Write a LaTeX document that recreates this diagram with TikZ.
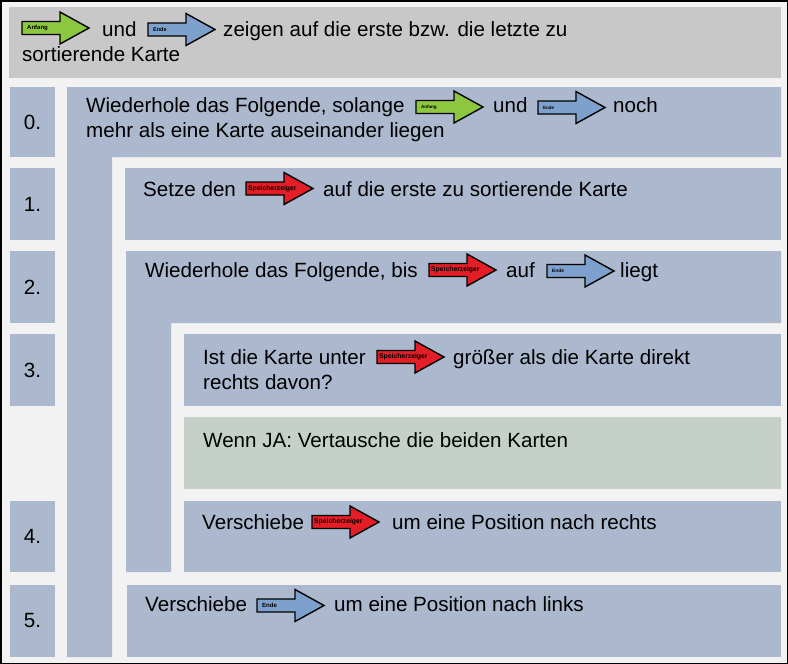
\documentclass[tikz,border=0pt]{standalone}
\usepackage{fontspec}
\setmainfont{Liberation Sans}
\definecolor{bgcol}{HTML}{F2F2F2}
\definecolor{topcol}{HTML}{C8C8C8}
\definecolor{boxcol}{HTML}{ABB8CE}
\definecolor{yescol}{HTML}{C5D1C8}
\definecolor{greenarr}{HTML}{8DC63F}
\definecolor{bluearr}{HTML}{7DA0CD}
\definecolor{redarr}{HTML}{E31E26}
\tikzset{
  stepbox/.style={fill=boxcol, draw=none},
  txt/.style={anchor=base west, inner sep=0pt, font=\fontsize{20.6}{25}\selectfont, text=black},
  numtxt/.style={anchor=center, inner sep=0pt, font=\fontsize{20.6}{25}\selectfont, text=black},
  arrowline/.style={draw=black, line width=1.4pt, line join=miter},
  arrowlabel/.style={anchor=west, inner sep=0pt, text=black}
}
\newcommand{\bkarrow}[7]{%
  \begin{scope}[shift={(#2,#3)}]
    \draw[arrowline, fill=#4] (0,-6.5) -- (38,-6.5) -- (38,-16) -- (67,0) -- (38,16) -- (38,6.5) -- (0,6.5) -- cycle;
    \node[arrowlabel, font=\bfseries\fontsize{#6}{#6}\selectfont] (#1) at (#7,0) {#5};
  \end{scope}}
\begin{document}
\begin{tikzpicture}[x=1pt,y=-1pt]
\useasboundingbox (0,0) rectangle (788,664);
\fill[bgcol] (0,0) rectangle (788,664);
\draw[black, line width=1.5pt] (0.75,0.75) rectangle (787.25,663.25);

% header
\fill[topcol] (9,7) rectangle (781,78);

% number boxes
\fill[stepbox] (10,87) rectangle (55,157);
\fill[stepbox] (10,168) rectangle (55,240);
\fill[stepbox] (10,251) rectangle (55,323);
\fill[stepbox] (10,334) rectangle (55,406);
\fill[stepbox] (10,501) rectangle (55,572);
\fill[stepbox] (10,585) rectangle (55,657);

% step 0 (L shape)
\fill[stepbox] (67,87) -- (781,87) -- (781,157) -- (112,157) -- (112,657) -- (67,657) -- cycle;
% step 1
\fill[stepbox] (125,168) rectangle (781,240);
% step 2 (L shape)
\fill[stepbox] (126,251) -- (781,251) -- (781,323) -- (171,323) -- (171,572) -- (126,572) -- cycle;
% step 3
\fill[stepbox] (184,334) rectangle (781,406);
% yes box
\fill[yescol] (184,417) rectangle (781,489);
% step 4
\fill[stepbox] (184,501) rectangle (781,572);
% step 5
\fill[stepbox] (127,585) rectangle (781,657);

% numbers
\node[numtxt] (n0) at (32.5,122) {0.};
\node[numtxt] (n1) at (32.5,204) {1.};
\node[numtxt] (n2) at (32.5,287) {2.};
\node[numtxt] (n3) at (32.5,370) {3.};
\node[numtxt] (n4) at (32.5,536.5) {4.};
\node[numtxt] (n5) at (32.5,621) {5.};

% header text
\bkarrow{hA}{22}{28}{greenarr}{Anfang}{6}{5}
\node[txt] (h1) at (102,36) {und};
\bkarrow{hE}{148}{29.5}{bluearr}{Ende}{5.5}{5}
\node[txt] (h2) at (223,36) {zeigen auf die erste bzw. die letzte zu};
\node[txt] (h3) at (22,61) {sortierende Karte};

% step 0 text
\node[txt] (s0a) at (86,112) {Wiederhole das Folgende, solange};
\bkarrow{s0A}{416}{107}{greenarr}{Anfang}{4.5}{5}
\node[txt] (s0b) at (493,112) {und};
\bkarrow{s0E}{538}{107.5}{bluearr}{Ende}{4.5}{5}
\node[txt] (s0c) at (613,112) {noch};
\node[txt] (s0d) at (86,137) {mehr als eine Karte auseinander liegen};

% step 1 text
\node[txt] (s1a) at (143,196) {Setze den};
\bkarrow{s1S}{246}{188.5}{redarr}{Speicherzeiger}{6.8}{2}
\node[txt] (s1b) at (323,196) {auf die erste zu sortierende Karte};

% step 2 text
\node[txt] (s2a) at (145,277) {Wiederhole das Folgende, bis};
\bkarrow{s2S}{429}{270}{redarr}{Speicherzeiger}{6.8}{2}
\node[txt] (s2b) at (506,277) {auf};
\bkarrow{s2E}{547}{271}{bluearr}{Ende}{4.8}{5}
\node[txt] (s2c) at (620,277) {liegt};

% step 3 text
\node[txt] (s3a) at (203,364) {Ist die Karte unter};
\bkarrow{s3S}{377}{357}{redarr}{Speicherzeiger}{6.8}{2}
\node[txt] (s3b) at (453,364) {größer als die Karte direkt};
\node[txt] (s3c) at (203,389) {rechts davon?};

% yes text
\node[txt] (sy) at (203,447) {Wenn JA: Vertausche die beiden Karten};

% step 4 text
\node[txt] (s4a) at (202,529) {Verschiebe};
\bkarrow{s4S}{312}{522}{redarr}{Speicherzeiger}{6.8}{2}
\node[txt] (s4b) at (392,529) {um eine Position nach rechts};

% step 5 text
\node[txt] (s5a) at (145,611) {Verschiebe};
\bkarrow{s5E}{257}{605.5}{bluearr}{Ende}{6}{5}
\node[txt] (s5b) at (334,611) {um eine Position nach links};
\end{tikzpicture}
\end{document}
